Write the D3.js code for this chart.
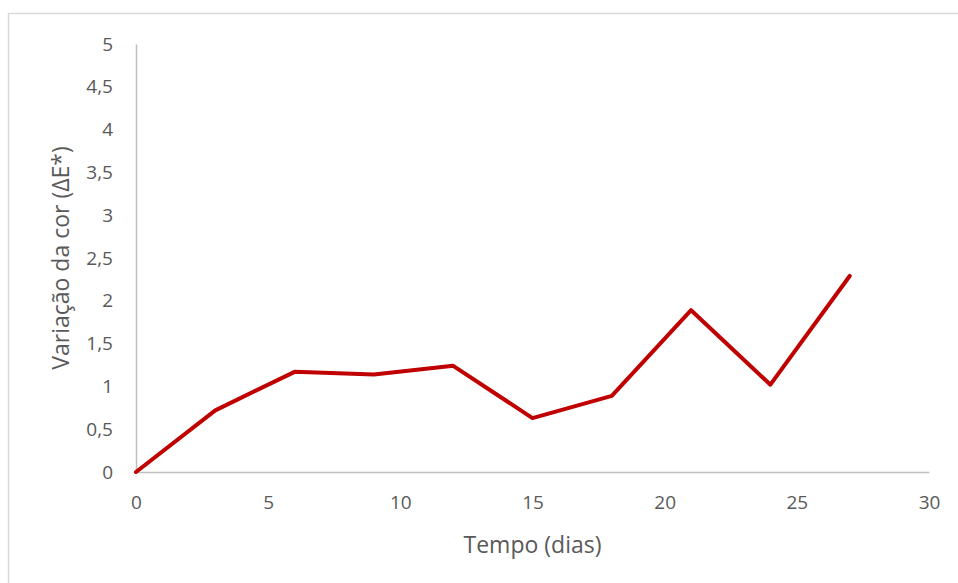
<!DOCTYPE html>
<html>
<head>
<meta charset="utf-8">
<script src="https://cdn.jsdelivr.net/npm/d3@7"></script>
<style>
  html, body { margin: 0; padding: 0; background: #fff; }
  svg { display: block; }
  text { font-family: "Open Sans", "Noto Sans", sans-serif; fill: #595959; }
</style>
</head>
<body>
<svg id="chart" width="958" height="583"></svg>
<script>
const days = [0, 3, 6, 9, 12, 15, 18, 21, 24, 27];
const deltaE = [0, 0.72, 1.17, 1.14, 1.24, 0.63, 0.89, 1.89, 1.02, 2.29];
const xTicks = [0, 5, 10, 15, 20, 25, 30];
const yTicks = [0, 0.5, 1, 1.5, 2, 2.5, 3, 3.5, 4, 4.5, 5];
const xTitle = "Tempo (dias)";
const yTitle = "Variação da cor (ΔE*)";

const svg = d3.select("#chart");
const W = 958, H = 583;
const m = { left: 136, right: 29, top: 44, bottom: 111 };

// outer frame
svg.append("rect")
  .attr("x", 8.5).attr("y", 13.5)
  .attr("width", 1000).attr("height", 1000)
  .attr("fill", "none").attr("stroke", "#D9D9D9").attr("stroke-width", 1.5);

const x = d3.scaleLinear().domain([0, 30]).range([m.left, W - m.right]);
const y = d3.scaleLinear().domain([0, 5]).range([H - m.bottom, m.top]);

const fmt = v => String(v).replace(".", ",");

// x axis
const xAxis = svg.append("g")
  .attr("transform", `translate(0,${y(0)})`)
  .call(d3.axisBottom(x).tickValues(xTicks).tickFormat(fmt).tickSize(0).tickPadding(24));
xAxis.select(".domain").attr("stroke", "#BFBFBF").attr("stroke-width", 1.5);
xAxis.selectAll("text").attr("font-size", 19).attr("fill", "#595959")
  .style("font-family", "'Open Sans', sans-serif");

// y axis
const yAxis = svg.append("g")
  .attr("transform", `translate(${x(0)},0)`)
  .call(d3.axisLeft(y).tickValues(yTicks).tickFormat(fmt).tickSize(0).tickPadding(23));
yAxis.select(".domain").attr("stroke", "#BFBFBF").attr("stroke-width", 1.5);
yAxis.selectAll("text").attr("font-size", 19).attr("fill", "#595959")
  .style("font-family", "'Open Sans', sans-serif");

// line
const data = days.map((d, i) => ({ d, v: deltaE[i] }));
svg.append("path")
  .datum(data)
  .attr("fill", "none")
  .attr("stroke", "#C00000")
  .attr("stroke-width", 4)
  .attr("stroke-linejoin", "round")
  .attr("stroke-linecap", "round")
  .attr("d", d3.line().x(p => x(p.d)).y(p => y(p.v)));

// titles
svg.append("text")
  .attr("x", (x(0) + x(30)) / 2).attr("y", 553)
  .attr("text-anchor", "middle").attr("font-size", 23)
  .text(xTitle);

svg.append("text")
  .attr("transform", `translate(69,${(y(0) + y(5)) / 2}) rotate(-90)`)
  .attr("text-anchor", "middle").attr("font-size", 23)
  .text(yTitle);
</script>
</body>
</html>
